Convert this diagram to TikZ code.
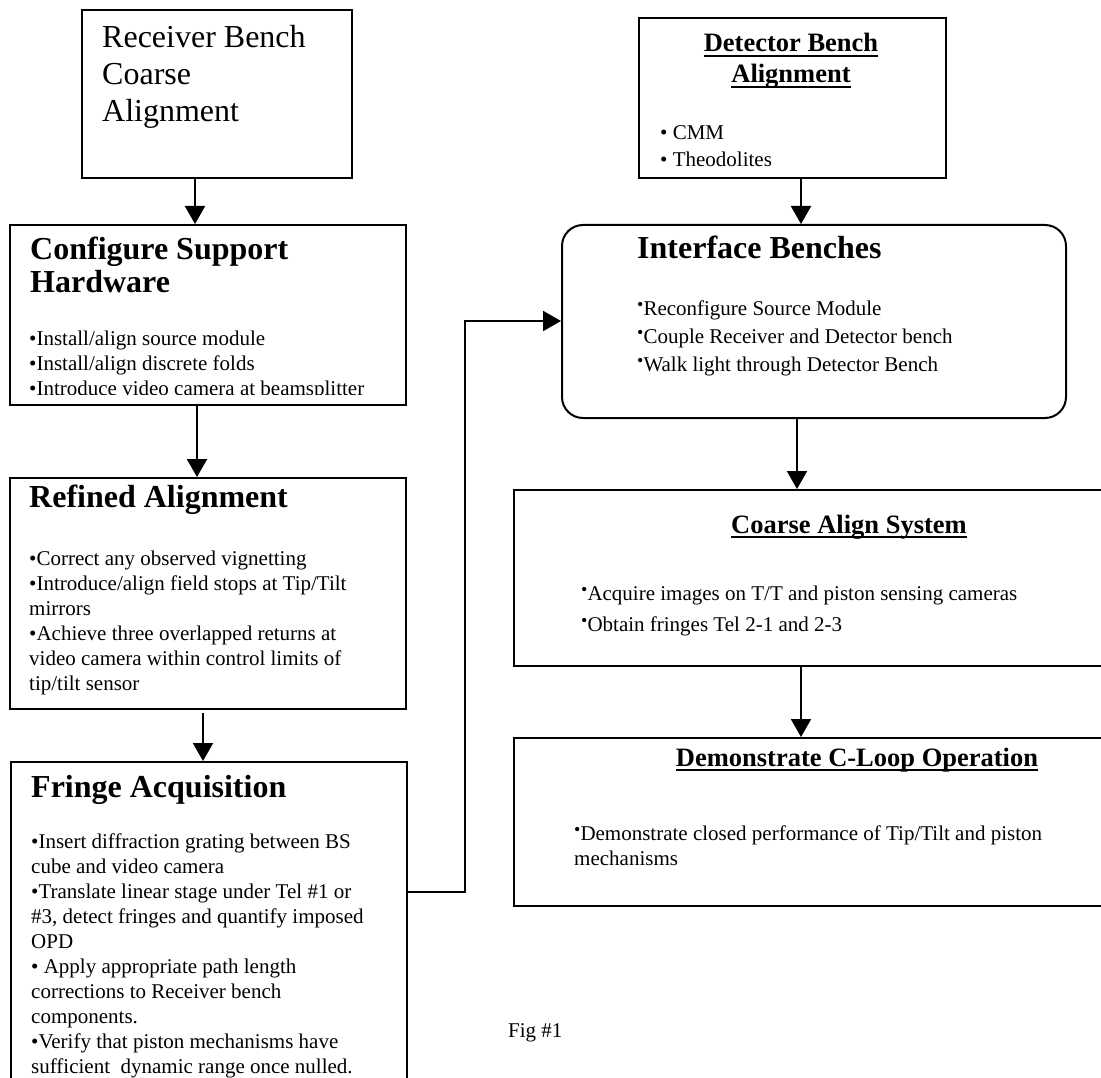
\documentclass[tikz,border=0pt]{standalone}
\usepackage{fontspec}
\setmainfont{Liberation Serif}
\usetikzlibrary{arrows.meta}

\tikzset{
  box/.style={draw, line width=2pt, inner sep=0pt, anchor=north west},
  flow/.style={line width=2pt, -{Triangle[width=20pt,length=18pt]}},
  head/.style={font=\fontsize{32}{33}\selectfont\bfseries, align=left, inner sep=0pt, anchor=base west},
  subhead/.style={font=\fontsize{26.5}{31}\selectfont\bfseries, align=center, inner sep=0pt, anchor=base},
  body/.style={font=\fontsize{21}{25}\selectfont, align=left, inner sep=0pt, anchor=base west}
}

% underlined heading line
\newcommand\ulhead[1]{\setbox0\hbox{#1}\rlap{\rule[-5pt]{\wd0}{2pt}}\box0}
% small raised bullet
\newcommand\sbul{\raisebox{5pt}{\fontsize{18}{18}\selectfont •}}

\begin{document}
\begin{tikzpicture}[x=1pt, y=-1pt]
    \useasboundingbox (0,0) rectangle (1101,1078);

    % receiver side (text nodes sit on the baseline of their last line)
    \node[box, minimum width=270pt, minimum height=168pt] (recv) at (81,9) {};
    \node[font=\fontsize{32}{37}\selectfont, align=left, inner sep=0pt, anchor=base west] (recvT) at (102,122)
        {Receiver Bench\\Coarse\\Alignment};

    \node[box, minimum width=396pt, minimum height=180pt] (config) at (9,224) {};
    \node[head] (configT) at (30,293) {Configure Support\\Hardware};
    \begin{scope}
        \clip (9,224) rectangle (405,394);
        \node[body] (configL) at (29,395) {•Install/align source module\\
            •Install/align discrete folds\\
            •Introduce video camera at beamsplitter};
    \end{scope}

    \node[box, minimum width=396pt, minimum height=231pt] (refine) at (9,477) {};
    \node[head] (refineT) at (29,507) {Refined Alignment};
    \node[body] (refineL) at (29,690) {•Correct any observed vignetting\\
        •Introduce/align field stops at Tip/Tilt\\
        mirrors\\
        •Achieve three overlapped returns at\\
        video camera within control limits of\\
        tip/tilt sensor};

    \node[box, minimum width=396pt, minimum height=340pt] (fringe) at (10,761) {};
    \node[head] (fringeT) at (31,797) {Fringe Acquisition};
    \node[body] (fringeL) at (31,1073) {•Insert diffraction grating between BS\\
        cube and video camera\\
        •Translate linear stage under Tel \#1 or\\
        \#3, detect fringes and quantify imposed\\
        OPD\\
        • Apply appropriate path length\\
        corrections to Receiver bench\\
        components.\\
        •Verify that piston mechanisms have\\
        sufficient\ \ dynamic range once nulled.};

    \coordinate (gap) at (203,713);
    \draw[flow] (recv.south -| 195,0) -- (config.north -| 195,0);
    \draw[flow] (config.south -| 197,0) -- (refine.north -| 197,0);
    \draw[flow] (gap) -- (fringe.north -| gap);

    % detector side
    \node[box, minimum width=307pt, minimum height=160pt] (detect) at (638,17) {};
    \node[subhead] (detectT) at (791,83) {\ulhead{Detector Bench}\\\ulhead{Alignment}};
    \node[body, font=\fontsize{21}{27}\selectfont] (detectL) at (660,167) {• CMM\\• Theodolites};

    \node[box, rounded corners=21pt, minimum width=504pt, minimum height=193pt] (iface) at (561,224) {};
    \node[head] (ifaceT) at (637,259) {Interface Benches};
    \node[body, font=\fontsize{21}{28}\selectfont] (ifaceL) at (637,371) {\sbul Reconfigure Source Module\\
        \sbul Couple Receiver and Detector bench\\
        \sbul Walk light through Detector Bench};

    \node[box, minimum width=600pt, minimum height=176pt] (coarse) at (513,489) {};
    \node[subhead] (coarseT) at (849,533) {\ulhead{Coarse Align System}};
    \node[body, font=\fontsize{21}{31}\selectfont] (coarseL) at (581,631) {\sbul Acquire images on T/T and piston sensing cameras\\
        \sbul Obtain fringes Tel 2-1 and 2-3};

    \node[box, minimum width=600pt, minimum height=168pt] (cloop) at (513,737) {};
    \node[subhead] (cloopT) at (857,766) {\ulhead{Demonstrate C-Loop Operation}};
    \node[body] (cloopL) at (574,865) {\sbul Demonstrate closed performance of Tip/Tilt and piston\\
        mechanisms};

    \draw[flow] (detect.south -| 801,0) -- (iface.north -| 801,0);
    \draw[flow] (iface.south -| 797,0) -- (coarse.north -| 797,0);
    \draw[flow] (coarse.south -| 801,0) -- (cloop.north -| 801,0);

    % fringe result feeds the bench interface
    \draw[flow] (fringe.east |- 0,892) -| (465,321) -- (iface.west |- 0,321);

    \node[body] (fig) at (508,1037) {Fig \#1};
\end{tikzpicture}
\end{document}
